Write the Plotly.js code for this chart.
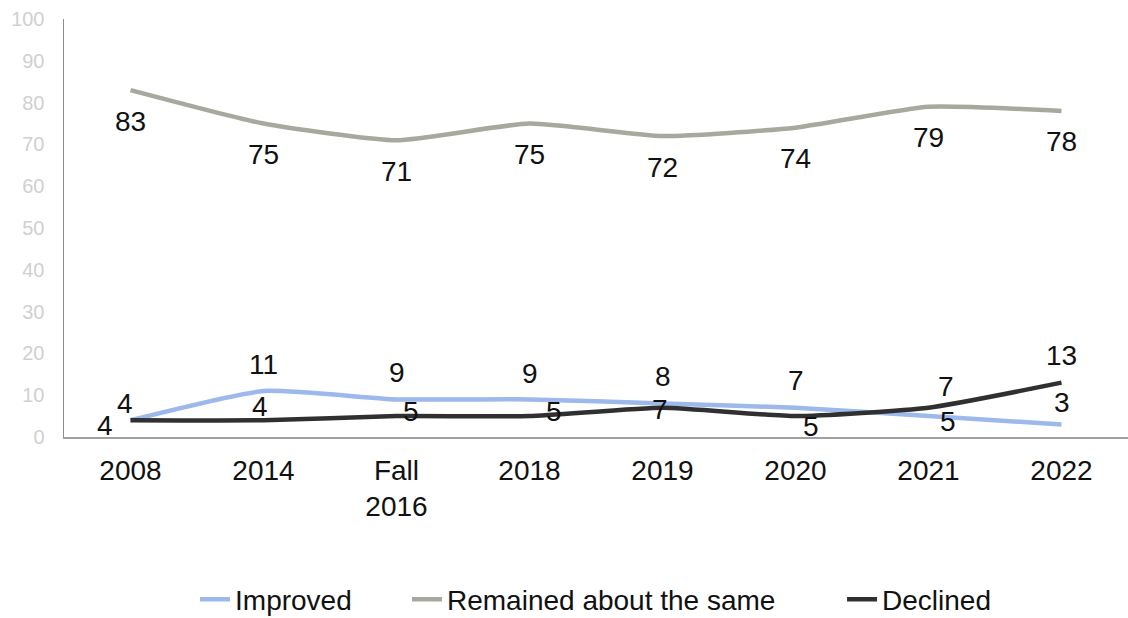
<!DOCTYPE html>
<html>
<head>
<meta charset="utf-8">
<script src="https://cdn.plot.ly/plotly-3.0.1.min.js"></script>
<style>html,body{margin:0;padding:0;background:#fff;}#chart{width:1128px;height:618px;}</style>
</head>
<body>
<div id="chart"></div>
<script>
// ---- data ----
const categories = ["2008", "2014", "Fall<br>2016", "2018", "2019", "2020", "2021", "2022"];
const improved = [4, 11, 9, 9, 8, 7, 5, 3];
const remained = [83, 75, 71, 75, 72, 74, 79, 78];
const declined = [4, 4, 5, 5, 7, 5, 7, 13];
const yTicks = [0, 10, 20, 30, 40, 50, 60, 70, 80, 90, 100];

// ---- label offsets (pixels, style only) ----
const improvedShift = [[-6, 17], [0, 27], [0, 27], [0, 26], [0, 27], [0, 27], [19, -5], [0, 22]];
const remainedShift = categories.map(() => [0, -31]);
const declinedShift = [[-26, -5], [-4, 14], [14, 5], [24, 5], [-3, -2], [15, -10], [17, 21], [0, 27]];

const FONT = "'Liberation Sans', Arial, sans-serif";
const colors = {improved: "#9db8ea", remained: "#a7a99f", declined: "#303030"};

function lineTrace(name, ys, color, legendId) {
  return {
    type: "scatter", mode: "lines", name: name,
    x: categories, y: ys,
    line: {color: color, width: 4.5, shape: "spline", smoothing: 0.5},
    legend: legendId,
    hoverinfo: "skip"
  };
}

function labels(ys, shifts) {
  // category axis: annotation x given as the category index
  return ys.map((v, i) => ({
    x: i, y: v, xref: "x", yref: "y",
    text: String(v), showarrow: false,
    xanchor: "center", yanchor: "middle",
    xshift: shifts[i][0], yshift: shifts[i][1],
    font: {family: FONT, size: 28, color: "#111"}
  }));
}

const data = [
  lineTrace("Improved", improved, colors.improved, "legend"),
  lineTrace("Remained about the same", remained, colors.remained, "legend2"),
  lineTrace("Declined", declined, colors.declined, "legend3")
];

function legendAt(xFrac) {
  return {
    orientation: "h", xref: "container", yref: "container",
    x: xFrac, xanchor: "left", y: 0.03, yanchor: "middle",
    font: {family: FONT, size: 28, color: "#111"},
    bgcolor: "rgba(0,0,0,0)"
  };
}

const layout = {
  width: 1128, height: 618,
  margin: {l: 64, r: 0, t: 19, b: 181},
  paper_bgcolor: "#fff", plot_bgcolor: "#fff",
  font: {family: FONT, color: "#111"},
  showlegend: true,
  legend: legendAt(0.1729),
  legend2: legendAt(0.3608),
  legend3: legendAt(0.7465),
  xaxis: {
    type: "category", range: [-0.5, 7.5],
    showline: true, linecolor: "#a0a0a0", linewidth: 2,
    showgrid: false, zeroline: false, ticks: "",
    tickfont: {family: FONT, size: 28, color: "#111"},
    ticklabelstandoff: 7,
    fixedrange: true
  },
  yaxis: {
    range: [0, 100], tickvals: yTicks,
    showline: true, linecolor: "#8c8c8c", linewidth: 1.5,
    showgrid: false, zeroline: false, ticks: "",
    tickfont: {family: FONT, size: 20, color: "#d0d0d0"},
    ticklabelstandoff: 14,
    fixedrange: true
  },
  annotations: [].concat(
    labels(remained, remainedShift),
    labels(improved, improvedShift),
    labels(declined, declinedShift)
  )
};

Plotly.newPlot("chart", data, layout, {displayModeBar: false, staticPlot: true});
</script>
</body>
</html>
